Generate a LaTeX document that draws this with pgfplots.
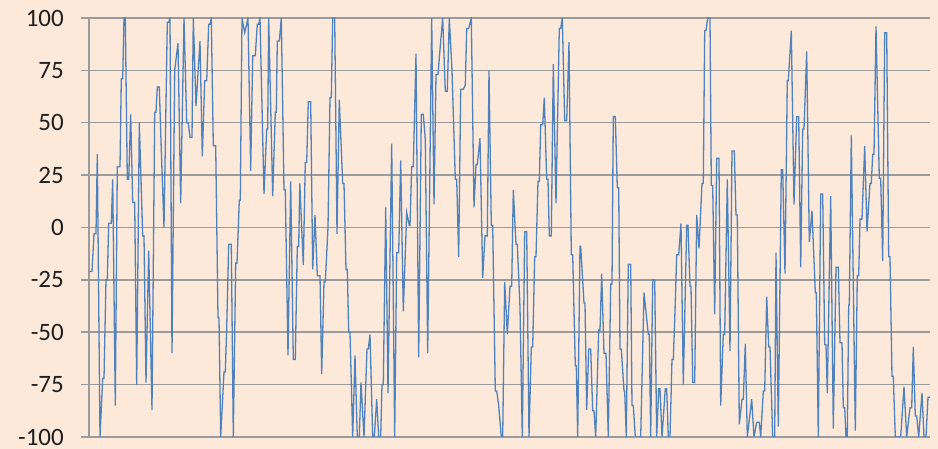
\documentclass[border=0pt]{standalone}
\usepackage{pgfplots}
\pgfplotsset{compat=1.18}
\usepackage{fontspec}
\setmainfont{Carlito}
\definecolor{bg}{RGB}{253,233,217}
\definecolor{gridc}{RGB}{155,155,155}
\definecolor{linec}{RGB}{79,129,189}
\begin{document}
\begin{tikzpicture}
\fill[bg] (-89pt,-12pt) rectangle (849pt,437pt);
\useasboundingbox (-89pt,-12pt) rectangle (849pt,437pt);
\begin{axis}[
  at={(0pt,0pt)}, anchor=south west,
  scale only axis, width=841pt, height=419pt,
  xmin=89, xmax=930, ymin=-100, ymax=100,
  axis x line=none, axis y line=left,
  y axis line style={-, draw=gridc, line width=1.5pt},
  ytick={-100,-75,-50,-25,0,25,50,75,100},
  yticklabels={-100,-75,-50,-25,0,25,50,75,100},
  ymajorgrids, major grid style={draw=gridc, line width=1.5pt},
  tick align=outside, major tick length=8pt,
  tick style={draw=gridc, line width=1.5pt},
  yticklabel style={font=\fontsize{25}{25}\selectfont, text=black!88, inner sep=0pt, xshift=-17pt},
]
\addplot[linec, line width=1.3pt, mark=none] coordinates {
(89.3,-21)(92,-21)(94,-3)(96,-3)(97.3,35)(100,-100)(102.7,-72)(104,-72)(106,-25)(107.3,-25)
(108.7,2)(111.3,2)(112.7,23)(115.3,-85)(117.3,29)(120,29)(121.3,71)(122.7,71)(124,100)(125.3,100)
(127.3,23)(128.7,23)(130.7,54)(132.7,12)(134.7,12)(136.7,-75)(139.3,50)(142.7,-4)(144,-4)(146,-74)
(148.7,-11)(152,-87)(154.7,55)(156,55)(157.3,67)(159.3,67)(161.3,37)(164,0)(167.3,98)(168.7,98)
(170,100)(172,-60)(174.7,75)(178,88)(180.7,11.5)(184,100)(186.7,50)(188.3,50)(190,43)(192,43)
(193.3,100)(196,58)(200,89)(202.3,34)(204.7,70)(206.7,70)(208.7,97)(210,97)(211.3,100)(213.3,39)
(215.7,39)(218,-43)(219,-43)(220.7,-100)(224,-69)(225.3,-69)(226.7,-48)(228.7,-8)(231.3,-8)(233.3,-100)
(235.7,-17)(237,-17)(239.3,13)(240.3,13)(242,100)(244.7,93)(248,100)(250.7,27)(252.7,82)(255.3,82)
(257.3,97)(258.7,97)(260,100)(264,16)(266.7,47)(267.7,47)(268.7,100)(272.7,15)(275.3,55)(276.3,55)
(277.3,89)(279.3,89)(281.3,100)(284,18)(285.3,18)(288,-61)(290.7,22)(293.3,-63)(295.3,-63)(297.3,-9)
(298.7,-9)(299.8,21)(303.3,-18)(305.3,31)(306.7,31)(308.3,60)(310.7,60)(312.7,-20)(315,6)(317.3,-23)
(320,-23)(321.7,-70)(324,-26)(325.3,-26)(328,0)(330,62)(331.3,62)(332.7,100)(334.7,100)(337,-3)
(339.3,61)(342.7,21)(344,21)(346,-20)(347.3,-20)(348.7,-50)(350,-50)(352.7,-100)(355,-61)(357.3,-100)
(359.3,-100)(361,-74)(364,-100)(367,-58)(368.3,-58)(370,-51)(372.7,-100)(374.3,-100)(376.7,-82)(378.7,-100)
(380.7,-100)(382,-75)(383.3,-75)(385.7,9.6)(388,-79)(391.7,40)(394.7,-100)(396.7,-12)(398.7,-12)(400.7,32)
(403.3,-40)(406.7,7)(409.3,1)(410,1)(411.7,29)(413.3,29)(416,83)(418.7,-62)(421.3,54)(423.3,54)
(425.3,42)(427.7,-60)(431.7,100)(434,11)(436,73)(438,73)(440,85)(442.7,100)(445.3,65)(447.3,65)
(449.3,100)(452,75)(455.3,23)(456.7,23)(458.7,-14)(460.7,66)(463.3,66)(465.3,68)(466.7,95)(468.7,95)
(471.3,100)(474,9.6)(476,30)(477.3,30)(480,42.6)(482.7,-24)(485,-4)(487.3,-4)(489,75)(491.3,1)
(492.7,1)(495.3,-78)(496.7,-78)(498.7,-85)(501.3,-100)(502.7,-100)(504.7,-26)(507.3,-51)(510,-28)(511.7,-28)
(513.3,18)(516,-8)(517.3,-8)(520,-38)(522.3,-100)(524.7,-2)(526.7,-2)(529,-100)(531.3,-57)(532.7,-57)
(534.7,-14)(536,-14)(538,22)(539.3,22)(540.7,49)(542.7,49)(544.3,62)(546.7,23)(548,23)(549.3,-4)
(551.3,-4)(553.3,78)(556,11.5)(559.3,95)(560.7,95)(562.3,100)(564.7,51)(566.7,51)(569,88.5)(571.3,-13)
(572.7,-13)(575.3,-66)(576.3,-66)(577.7,-100)(580,-9)(580.7,-9)(584,-36)(585,-36)(586.7,-87)(588.7,-58)
(590.7,-58)(592.7,-87.5)(594,-87.5)(595.7,-100)(598.7,-49)(600,-49)(601.7,-22)(604,-60)(606,-60)(608.3,-100)
(610.7,-27)(612,-27)(613.3,53)(615.3,53)(617.3,19)(618.7,19)(620,-58)(621.3,-58)(624,-78)(624.7,-78)
(626.3,-100)(628.3,-17.5)(630.7,-17.5)(632,-85)(633.3,-85)(635.3,-100)(640.7,-100)(644,-31)(648.3,-51)(649.3,-51)
(650.7,-100)(652.7,-25)(654.7,-25)(656.7,-100)(658.7,-77)(660,-77)(662,-100)(665.3,-77)(666.7,-77)(668.3,-100)
(670,-100)(672,-63)(673.3,-63)(675,-40)(676.7,-13)(678.7,-13)(681,2)(683.3,-75)(686.7,1)(688,1)
(690,-28)(691,-28)(692.7,-74)(694.7,-74)(696.7,6)(699,-10)(702,21)(703.3,21)(704.7,94)(706,94)
(707.7,100)(710,100)(711.3,20)(712.7,20)(714.7,-41.5)(716.7,33)(719,33)(720.7,-85)(723.3,-51)(724.7,-51)
(727.3,23)(730,-59)(732,36.5)(734.3,36.5)(736,6)(737.3,6)(739.3,-94)(742,-82)(743.3,-82)(745.3,-55.5)
(747.3,-100)(751.7,-82)(754,-100)(756.7,-93)(759.3,-93)(760.7,-100)(763.3,-78)(764.7,-78)(766.7,-33)(768.7,-57)
(770,-57)(772.7,-100)(774.7,-100)(776,-12)(778.3,-95)(781.3,27.5)(782.7,27.5)(785,-22)(787.3,70)(788.3,70)
(791.3,94)(794,11)(796.7,53)(798.7,53)(800.7,-19)(802.7,47)(804,47)(806.7,84)(809.3,-7)(812,8)
(815.3,-31)(816.3,-31)(818.3,-100)(820.7,16)(822.7,16)(824.7,-56)(826,-56)(827.3,-79)(830.7,15)(833.3,-96)
(836,-19)(838.3,-19)(840,-55)(842,-55)(843.3,-86)(844.7,-86)(846,-100)(847.3,-100)(848.7,-37)(849.3,-37)
(851.3,44)(855.3,-97)(857.3,-23)(858.7,-23)(860,4)(862,4)(864.7,39)(867,-2)(870,21)(871.3,21)
(872.7,35)(874,35)(876,96)(879.3,23.5)(880.7,23.5)(882.7,-16)(884.7,93)(886.7,93)(888.7,-14)(890,-14)
(892,-71)(893.3,-71)(895.3,-100)(900.7,-100)(904,-76)(906.7,-100)(910,-86)(911.7,-86)(913.3,-57)(915.3,-90)
(916.7,-90)(918.7,-100)(922,-79)(924,-100)(926,-100)(928,-81)(930,-81)
};
\end{axis}
\end{tikzpicture}
\end{document}
